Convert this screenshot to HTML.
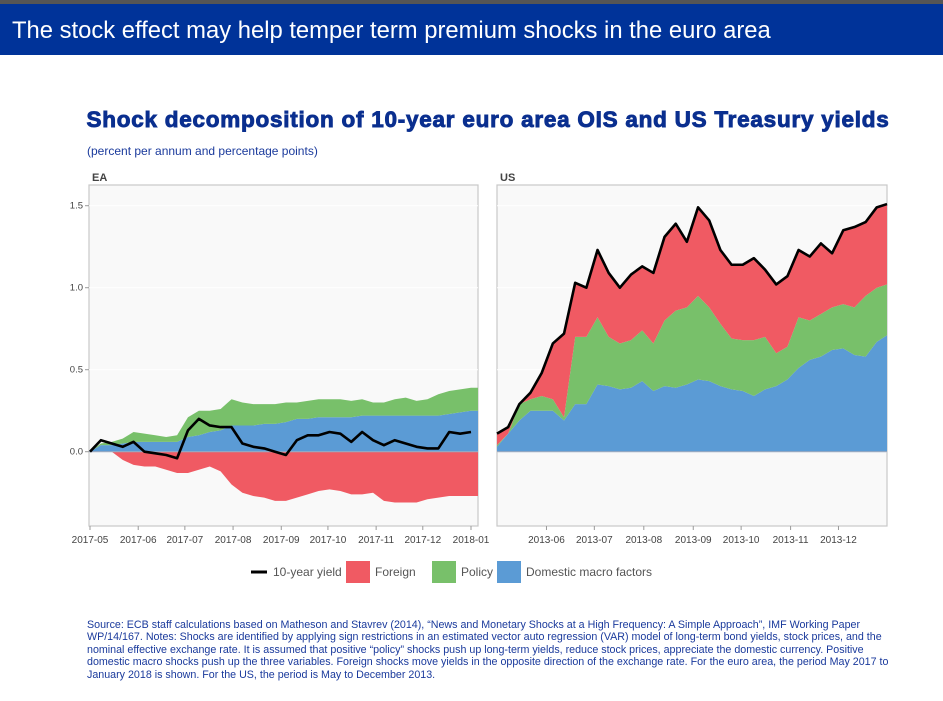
<!DOCTYPE html>
<html><head><meta charset="utf-8"><style>
body{margin:0;width:943px;height:701px;background:#fff;overflow:hidden;font-family:"Liberation Sans",sans-serif}
#banner{position:absolute;left:0;top:0;width:943px;height:55px;background:#003399;border-top:4px solid #555;box-sizing:border-box}
#banner div{position:absolute;left:12px;top:13px;color:#fff;font-size:23.8px}
#title{position:absolute;left:0;width:976px;top:107px;text-align:center;color:#0a2f8f;font-weight:bold;font-size:22.5px;letter-spacing:0.75px;-webkit-text-stroke:0.9px #0a2f8f}
#sub{position:absolute;left:87px;top:144px;color:#1a3a9c;font-size:12px}
#notes{position:absolute;left:87px;top:619px;width:815px;color:#1a3a9c;font-size:10.7px;line-height:12.4px}
svg{position:absolute;left:0;top:0}
</style></head><body>
<div id="banner"><div>The stock effect may help temper term premium shocks in the euro area</div></div>
<div id="title">Shock decomposition of 10-year euro area OIS and US Treasury yields</div>
<div id="sub">(percent per annum and percentage points)</div>
<svg id="chart" width="943" height="701"></svg>
<div id="notes">Source: ECB staff calculations based on Matheson and Stavrev (2014), “News and Monetary Shocks at a High Frequency: A Simple Approach”, IMF Working Paper WP/14/167. Notes: Shocks are identified by applying sign restrictions in an estimated vector auto regression (VAR) model of long-term bond yields, stock prices, and the nominal effective exchange rate. It is assumed that positive “policy” shocks push up long-term yields, reduce stock prices, appreciate the domestic currency. Positive domestic macro shocks push up the three variables. Foreign shocks move yields in the opposite direction of the exchange rate. For the euro area, the period May 2017 to January 2018 is shown. For the US, the period is May to December 2013.</div>
<script>
const yTicks=[0,0.5,1.0,1.5];
const yTickLabels=["0.0","0.5","1.0","1.5"];
const eaMonths=["2017-05","2017-06","2017-07","2017-08","2017-09","2017-10","2017-11","2017-12","2018-01"];
const eaMonthDays=[0,31,61,92,123,153,184,214,245];
const usMonths=["2013-06","2013-07","2013-08","2013-09","2013-10","2013-11","2013-12"];
const usMonthDays=[31,61,92,123,153,184,214];
const eaYield=[0,.07,.05,.03,.06,0,-.01,-.02,-.04,.13,.2,.16,.15,.15,.05,.03,.02,0,-.02,.07,.1,.1,.12,.11,.06,.12,.07,.04,.07,.05,.03,.02,.02,.12,.11,.12];
const eaDomestic=[0,.04,.04,.05,.06,.06,.06,.06,.06,.09,.1,.12,.13,.16,.16,.16,.17,.17,.18,.2,.2,.21,.21,.21,.21,.22,.22,.22,.22,.22,.22,.22,.22,.23,.24,.25];
const eaPolicy=[0,.01,.02,.03,.06,.05,.04,.03,.04,.12,.15,.13,.13,.16,.14,.13,.12,.12,.12,.1,.11,.11,.11,.11,.1,.1,.08,.08,.1,.11,.09,.1,.13,.14,.14,.14];
const eaForeign=[0,0,0,-.05,-.08,-.09,-.09,-.11,-.13,-.13,-.11,-.09,-.12,-.2,-.25,-.27,-.28,-.3,-.3,-.28,-.26,-.24,-.23,-.24,-.26,-.26,-.25,-.3,-.31,-.31,-.31,-.29,-.28,-.27,-.27,-.27];
const usYield=[.11,.15,.29,.36,.48,.66,.72,1.03,1.0,1.23,1.09,1.0,1.08,1.13,1.09,1.31,1.39,1.28,1.49,1.41,1.23,1.14,1.14,1.18,1.11,1.02,1.07,1.23,1.19,1.27,1.21,1.35,1.37,1.40,1.49,1.51];
const usDomestic=[.03,.11,.19,.25,.25,.25,.19,.29,.29,.41,.4,.38,.39,.43,.37,.4,.39,.41,.44,.43,.4,.38,.37,.34,.38,.4,.44,.51,.56,.58,.62,.63,.59,.58,.67,.71];
const usPolicy=[.01,0,.10,.07,.09,.07,.02,.41,.41,.41,.30,.28,.29,.31,.29,.40,.47,.47,.51,.45,.38,.31,.31,.34,.32,.20,.20,.31,.24,.26,.26,.27,.29,.37,.33,.31];
const usForeign=[.07,.04,0,.04,.14,.34,.51,.33,.30,.41,.39,.34,.40,.39,.43,.51,.53,.40,.54,.53,.45,.45,.46,.50,.41,.42,.43,.41,.39,.43,.33,.45,.49,.45,.49,.49];

const NS='http://www.w3.org/2000/svg';
const svg=document.getElementById('chart');
function mk(tag,attrs,parent){const e=document.createElementNS(NS,tag);for(const k in attrs)e.setAttribute(k,attrs[k]);(parent||svg).appendChild(e);return e;}
const top0=185,bot0=526;
function yScale(v){return 451.7-v*164;}
const C={red:'#f05a63',green:'#78c06a',blue:'#5b9bd5'};

function panel(name,x0,x1,label){
  const g=mk('g',{});
  
  
  const bg=mk('rect',{x:x0,y:top0,width:x1-x0,height:bot0-top0,fill:'#f9f9f9',stroke:'#c8c8c8','stroke-width':1.2},g);
  
  
  const t=mk('text',{x:x0+3,y:181,'font-size':11,'font-weight':'bold',fill:'#444'},g);
  t.textContent=label;
  
  
  yTicks.forEach(v=>{mk('line',{x1:x0,x2:x1,y1:yScale(v),y2:yScale(v),stroke:'#fff','stroke-width':1},g);});
  return g;
}
function xs(i,x0,step,x1){return Math.min(x0+i*step,x1);}
function area(g,name,x0,step,base,vals,color,x1){
  const n=vals.length;let d='';
  for(let i=0;i<n;i++){d+=(i?'L':'M')+xs(i,x0,step,x1)+','+yScale(base[i]+vals[i]);}
  d+='L'+x1+','+yScale(base[n-1]+vals[n-1])+'L'+x1+','+yScale(base[n-1]);
  for(let i=n-1;i>=0;i--){d+='L'+xs(i,x0,step,x1)+','+yScale(base[i]);}
  const p=mk('path',{d:d+'Z',fill:color},g);
  
  
}
function line(g,name,x0,step,vals,x1){
  const d=vals.map((v,i)=>(i?'L':'M')+xs(i,x0,step,x1)+','+yScale(v)).join('');
  const p=mk('path',{d:d,fill:'none',stroke:'#000','stroke-width':2.6,'stroke-linejoin':'round'},g);
  
  
}
// EA
const eaX0=90,eaX1=478,eaDay=(471-90)/245,eaStep=7*eaDay;
const ga=panel('ea',89,478,'EA');
const zeros=eaYield.map(()=>0);
area(ga,'ea-foreign-area',eaX0,eaStep,zeros,eaForeign,C.red,eaX1);
area(ga,'ea-domestic-area',eaX0,eaStep,zeros,eaDomestic,C.blue,eaX1);
area(ga,'ea-policy-area',eaX0,eaStep,eaDomestic,eaPolicy,C.green,eaX1);
mk('line',{x1:89,x2:478,y1:yScale(0),y2:yScale(0),stroke:'#9aaac0','stroke-width':1.2},ga);
line(ga,'ea-yield-line',eaX0,eaStep,eaYield,eaX1);
eaMonths.forEach((m,i)=>{const x=eaX0+eaMonthDays[i]*eaDay;
  mk('line',{x1:x,x2:x,y1:526,y2:530,stroke:'#999'},ga);
  const t=mk('text',{x:x,y:543,'font-size':10,fill:'#444','text-anchor':'middle'},ga);t.textContent=m;
  
  });
yTicks.forEach((v,i)=>{mk('line',{x1:85,x2:89,y1:yScale(v),y2:yScale(v),stroke:'#999'},ga);
  const t=mk('text',{x:83,y:yScale(v)+3,'font-size':9.5,fill:'#444','text-anchor':'end'},ga);t.textContent=yTickLabels[i];
  
  });
// US
const usX0=497,usX1=887,usDay=(838-546)/183,usStep=7*usDay;
const gu=panel('us',497,887,'US');
const uz=usYield.map(()=>0);
const usBase2=usDomestic.map((v,i)=>v+usPolicy[i]);
area(gu,'us-domestic-area',usX0,usStep,uz,usDomestic,C.blue,usX1);
area(gu,'us-policy-area',usX0,usStep,usDomestic,usPolicy,C.green,usX1);
area(gu,'us-foreign-area',usX0,usStep,usBase2,usForeign,C.red,usX1);
mk('line',{x1:497,x2:887,y1:yScale(0),y2:yScale(0),stroke:'#9aaac0','stroke-width':1.2},gu);
line(gu,'us-yield-line',usX0,usStep,usYield,usX1);
usMonths.forEach((m,i)=>{const x=usX0+usMonthDays[i]*usDay;
  mk('line',{x1:x,x2:x,y1:526,y2:530,stroke:'#999'},gu);
  const t=mk('text',{x:x,y:543,'font-size':10,fill:'#444','text-anchor':'middle'},gu);t.textContent=m;
  
  });
// legend
const lg=mk('g',{});


mk('line',{x1:251,x2:267,y1:572,y2:572,stroke:'#000','stroke-width':3},lg);
const items=[['10-year yield',null,273],['Foreign',C.red,346],['Policy',C.green,432],['Domestic macro factors',C.blue,497]];
items.forEach(it=>{let tx=it[2];
  if(it[1]){mk('rect',{x:it[2],y:561,width:24,height:22,fill:it[1]},lg);tx=it[2]+29;}
  const t=mk('text',{x:tx,y:576,'font-size':12,fill:'#555'},lg);t.textContent=it[0];
  
  });
</script>
</body></html>
